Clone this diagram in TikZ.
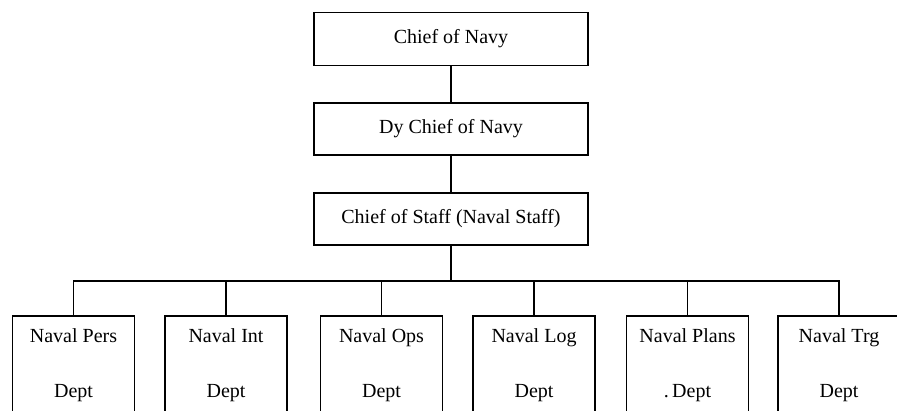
\documentclass[tikz,border=0pt]{standalone}
\usepackage{fontspec}
\setmainfont{Liberation Serif}
\begin{document}
\begin{tikzpicture}[x=1pt,y=-1pt,
  box/.style={draw=black,line width=1.5pt,inner sep=0pt,align=center},
  topbox/.style={box,minimum width=274pt,font=\fontsize{20}{24}\selectfont},
  deptbox/.style={box,minimum width=122pt,minimum height=99pt,font=\fontsize{20}{55}\selectfont},
  conn/.style={line width=1.4pt}]
\useasboundingbox (0,0) rectangle (897,411);
\clip (0,0) rectangle (897,411);
\fill[white] (0,0) rectangle (897,411);
\node[topbox,minimum height=53pt] (cn) at (451,39) {Chief of Navy};
\node[topbox,minimum height=52pt] (dcn) at (451,129) {Dy Chief of Navy};
\node[topbox,minimum height=52pt] (cos) at (451,219) {Chief of Staff (Naval Staff)};
\node[deptbox] (d1) at (73.5,365.5) {Naval Pers\\Dept};
\node[deptbox] (d2) at (226,365.5) {Naval Int\\Dept};
\node[deptbox] (d3) at (381.5,365.5) {Naval Ops\\Dept};
\node[deptbox] (d4) at (534,365.5) {Naval Log\\Dept};
\node[deptbox] (d5) at (687.5,365.5) {Naval Plans\\.\,Dept};
\node[deptbox] (d6) at (839,365.5) {Naval Trg\\Dept};
\coordinate (bus) at (451,281);
\draw[conn] (cn) -- (dcn);
\draw[conn] (dcn) -- (cos);
\draw[conn] (cos) -- (bus);
\draw[conn] (d1.north) |- (bus) -| (d6.north);
\foreach \n in {d2,d3,d4,d5}{
  \draw[conn] (\n.north) -- (\n.north |- bus);
}
\end{tikzpicture}
\end{document}
